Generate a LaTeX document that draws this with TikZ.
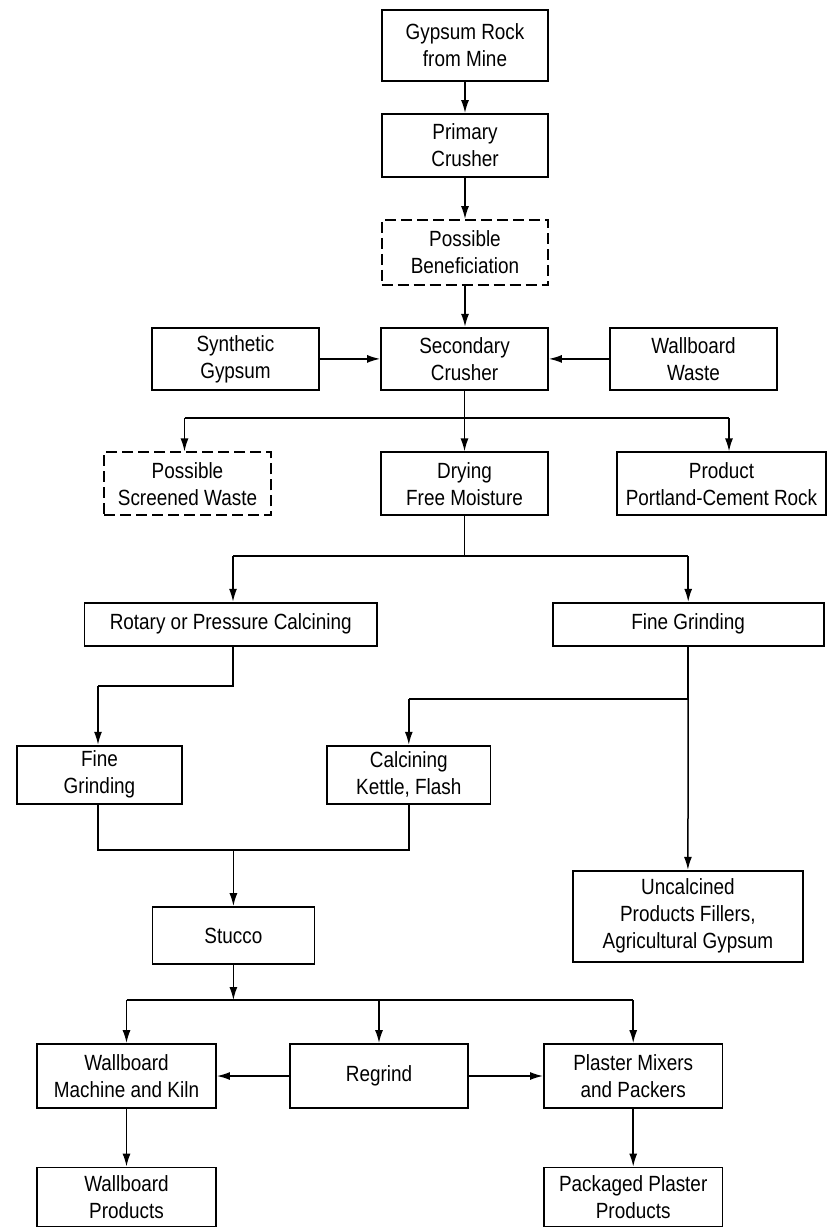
\documentclass[tikz,border=0pt]{standalone}
\usepackage{fontspec}
\setmainfont{Liberation Sans}[FakeStretch=0.86]
\usetikzlibrary{arrows.meta}
\begin{document}
\begin{tikzpicture}[x=1pt,y=-1pt,
  box/.style={draw, line width=1.8pt, inner sep=0pt, align=center,
    font=\fontsize{22}{27}\selectfont},
  dbox/.style={box, dash pattern=on 11pt off 5pt},
  conn/.style={line width=1.5pt},
  arr/.style={conn, -{Latex[length=13pt,width=8pt]}}]
\fill[white] (0,0) rectangle (827,1228);
\useasboundingbox (0,0) rectangle (827,1228);
% top chain
\node[box, minimum width=166.6, minimum height=71] (gyp) at (465,45.5) {Gypsum Rock\\from Mine};
\node[box, minimum width=166.6, minimum height=63] (prim) at (465,145.5) {Primary\\Crusher};
\node[dbox, minimum width=166.6, minimum height=65] (ben) at (465,252.5) {Possible\\Beneficiation};
\node[box, minimum width=167, minimum height=62.3] (sec) at (464.5,358.9) {Secondary\\Crusher};
\node[box, minimum width=167, minimum height=62.3] (syn) at (235.5,358.9) {Synthetic\\Gypsum};
\node[box, minimum width=167, minimum height=62.3] (waste) at (693.5,358.9) {Wallboard\\Waste};
% second row
\node[dbox, minimum width=167, minimum height=63] (scr) at (187.5,483.8) {Possible\\Screened Waste};
\node[box, minimum width=167, minimum height=63] (dry) at (464.5,483.8) {Drying\\Free Moisture};
\node[box, minimum width=209, minimum height=63] (port) at (721.5,483.8) {Product\\Portland-Cement Rock};
% third row
\node[box, minimum width=292.6, minimum height=43] (rot) at (230.7,624.2) {Rotary or Pressure Calcining};
\node[box, minimum width=271, minimum height=43] (fgr) at (688.2,624.2) {Fine Grinding};
% fourth row
\node[box, minimum width=165, minimum height=58.3] (fgl) at (99.5,774.8) {Fine\\Grinding};
\node[box, minimum width=163.5, minimum height=58.3] (calc) at (408.8,774.8) {Calcining\\Kettle, Flash};
% stucco & uncalcined
\node[box, minimum width=162, minimum height=57] (stu) at (233.4,935.5) {Stucco};
\node[box, minimum width=229.7, minimum height=91] (unc) at (687.9,916.2) {Uncalcined\\Products Fillers,\\Agricultural Gypsum};
% bottom rows
\node[box, minimum width=179, minimum height=64] (wm) at (126.5,1076) {Wallboard\\Machine and Kiln};
\node[box, minimum width=178, minimum height=64] (reg) at (379,1076) {Regrind};
\node[box, minimum width=178.5, minimum height=64] (pm) at (633.2,1076) {Plaster Mixers\\and Packers};
\node[box, minimum width=179, minimum height=59] (wp) at (126.5,1197) {Wallboard\\Products};
\node[box, minimum width=178.5, minimum height=59] (pp) at (633.2,1197) {Packaged Plaster\\Products};
% junction coordinates
\coordinate (j1) at (464.5,418);
\coordinate (j1l) at (184.5,418);
\coordinate (j1r) at (729,418);
\coordinate (j2) at (464.5,556);
\coordinate (j2l) at (233,556);
\coordinate (j2r) at (688.2,556);
\coordinate (j3) at (233,686);
\coordinate (j3l) at (98,686);
\coordinate (j4) at (688.2,699);
\coordinate (j4l) at (408.8,699);
\coordinate (j5l) at (98,850);
\coordinate (j5r) at (408.8,850);
\coordinate (j5) at (233.4,850);
\coordinate (j6) at (233.4,1000);
\coordinate (j6l) at (126.5,1000);
\coordinate (j6m) at (379,1000);
\coordinate (j6r) at (633.2,1000);
% connectors
\draw[arr] (gyp) -- (prim);
\draw[arr] (prim) -- (ben);
\draw[arr] (ben.south) -- (ben.south |- sec.north);
\draw[arr] (syn) -- (sec);
\draw[arr] (waste) -- (sec);
\draw[conn] (sec.south) -- (j1);
\draw[conn] (j1l) -- (j1r);
\draw[arr] (j1l) -- (j1l |- scr.north);
\draw[arr] (j1) -- (dry.north);
\draw[arr] (j1r) -- (j1r |- port.north);
\draw[conn] (dry.south) -- (j2);
\draw[conn] (j2l) -- (j2r);
\draw[arr] (j2l) -- (j2l |- rot.north);
\draw[arr] (j2r) -- (fgr.north);
\draw[conn] (j3 |- rot.south) -- (j3) -- (j3l);
\draw[arr] (j3l) -- (j3l |- fgl.north);
\draw[conn] (fgr.south) -- (j4) -- (j4l);
\draw[arr] (j4l) -- (calc.north);
\draw[arr] (j4) -- (unc.north);
\draw[conn] (j5l |- fgl.south) -- (j5l) -- (j5r) -- (calc.south);
\draw[arr] (j5) -- (stu.north);
\draw[arr] (stu.south) -- (j6);
\draw[conn] (j6l) -- (j6r);
\draw[arr] (j6l) -- (wm.north);
\draw[arr] (j6m) -- (reg.north);
\draw[arr] (j6r) -- (pm.north);
\draw[arr] (reg) -- (wm);
\draw[arr] (reg) -- (pm);
\draw[arr] (wm) -- (wp);
\draw[arr] (pm) -- (pp);
\end{tikzpicture}
\end{document}
